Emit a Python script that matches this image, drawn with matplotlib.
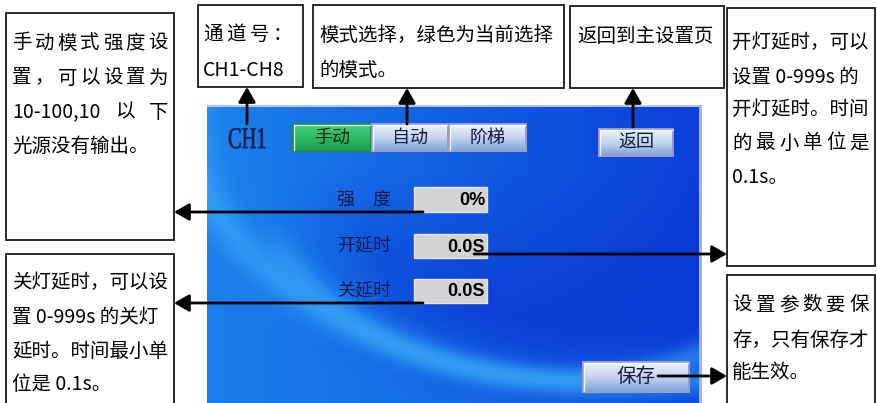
import numpy as np
import matplotlib
matplotlib.use('Agg')
import matplotlib.pyplot as plt
from matplotlib.patches import Rectangle, PathPatch
from matplotlib.textpath import TextPath
from matplotlib.font_manager import FontProperties
from matplotlib.transforms import Affine2D

plt.rcParams['font.family'] = ['Noto Sans CJK SC', 'DejaVu Sans']

# ---- content ----
note_manual = ["手动模式强度设", "置，可以设置为", "10-100,10 以 下", "光源没有输出。"]
note_channel = ["通 道 号 ：", "CH1-CH8"]
note_mode = ["模式选择，绿色为当前选择", "的模式。"]
note_return = ["返回到主设置页"]
note_on = ["开灯延时，可以", "设置 0-999s 的", "开灯延时。时间", "的 最 小 单 位 是", "0.1s。"]
note_off = ["关灯延时，可以设", "置 0-999s 的关灯", "延时。时间最小单", "位是 0.1s。"]
note_save = ["设置参数要保", "存，只有保存才", "能生效。"]
channel_label = "CH1"
mode_buttons = ["手动", "自动", "阶梯"]
active_mode = "手动"
field_labels = ["强　度", "开延时", "关延时"]
field_values = ["0%", "0.0S", "0.0S"]
back_label = "返回"
save_label = "保存"

W, H = 877, 403
fig = plt.figure(figsize=(W / 100, H / 100), dpi=100)
ax = fig.add_axes([0, 0, 1, 1])
ax.set_xlim(0, W)
ax.set_ylim(H, 0)
ax.axis('off')
renderer = fig.canvas.get_renderer()

# ---- blue panel background (decorative gradient) ----
px0, px1, py0, py1 = 207, 702, 105, 403
pw, ph = px1 - px0, py1 - py0
xx, yy = np.meshgrid(np.arange(pw) + px0, np.arange(ph) + py0)
xn = (xx - px0) / pw
left_c = np.array([28, 132, 236]) / 255
right_c = np.array([10, 62, 218]) / 255
t = np.clip(xn ** 0.9, 0, 1)[..., None]
img = left_c * (1 - t) + right_c * t
# big ellipse
r = np.sqrt(((xx - 560) / 290) ** 2 + ((yy - 170) / 200) ** 2)
inside = np.clip((1 - r) * 4, 0, 1)[..., None]
depth = np.clip((yy - 170) / 200, 0, 1)[..., None]
dark = np.array([8, 50, 208]) / 255
img = img * (1 - inside * depth * 0.9) + dark * inside * depth * 0.9
rim = np.exp(-((r - 1.04) / 0.06) ** 2)[..., None] * np.clip((yy - 220) / 40, 0, 1)[..., None]
light = np.array([50, 160, 245]) / 255
img = img * (1 - rim * 0.6) + light * rim * 0.6
# lower swoosh
r2 = np.sqrt(((xx - 620) / 430) ** 2 + ((yy - 120) / 265) ** 2)
sw = np.exp(-((r2 - 1.0) / 0.05) ** 2)[..., None]
img = img * (1 - sw * 0.55) + np.array([60, 175, 250]) / 255 * sw * 0.55
below = np.clip((r2 - 1.0) * 6, 0, 1)[..., None]
img = img * (1 - below * 0.5) + np.array([25, 120, 232]) / 255 * below * 0.5
ax.imshow(np.clip(img, 0, 1), extent=(px0, px1, py1, py0), origin='upper',
          interpolation='bilinear', zorder=1)
ax.add_patch(Rectangle((px0, py0), pw, 2, facecolor='#b8c4dc', edgecolor='none', zorder=2))
ax.add_patch(Rectangle((px1 - 3, py0), 3, ph, facecolor='#a8b2c8', edgecolor='none', zorder=2))


def grad_rect(x0, y0, x1, y1, top, mid, bot, edge, z=3):
    n = 40
    s = np.linspace(0, 1, n)
    top, mid, bot = [np.array(matplotlib.colors.to_rgb(c)) for c in (top, mid, bot)]
    cols = np.where(s[:, None] < 0.5, top + (mid - top) * (s[:, None] / 0.5),
                    mid + (bot - mid) * ((s[:, None] - 0.5) / 0.5))
    arr = np.repeat(cols[:, None, :], 4, axis=1)
    ax.imshow(arr, extent=(x0, x1, y1, y0), origin='upper', interpolation='bilinear', zorder=z)
    ax.add_patch(Rectangle((x0, y0), x1 - x0, y1 - y0, facecolor='none', edgecolor=edge,
                           lw=1.4, zorder=z + 0.1))
    ax.plot([x0 + 1, x1 - 1], [y0 + 1, y0 + 1], color='white', lw=1, alpha=0.8, zorder=z + 0.2)
    ax.plot([x0 + 1, x0 + 1], [y0 + 1, y1 - 1], color='white', lw=1, alpha=0.8, zorder=z + 0.2)


# mode buttons
btn_x = [(293, 371), (372, 448), (449, 526)]
for (bx0, bx1), lab in zip(btn_x, mode_buttons):
    if lab == active_mode:
        grad_rect(bx0, 124, bx1, 151, '#3fd07a', '#2cbb62', '#1f9e4e', '#1e8a44')
        col = '#0b2a10'
    else:
        grad_rect(bx0, 124, bx1, 151, '#eef3fb', '#c3d5ef', '#7ea3d9', '#9a9cc8')
        col = '#0e1a40'
    ax.text((bx0 + bx1) / 2, 137.5, lab, fontsize=13, color=col, ha='center', va='center', zorder=5)

# back & save buttons
grad_rect(599, 129, 673, 156, '#eef3fb', '#c3d5ef', '#7ea3d9', '#9a9cc8')
ax.text(636, 142.5, back_label, fontsize=13, color='#0e1a40', ha='center', va='center', zorder=5)
grad_rect(583, 362, 689, 392, '#eef3fb', '#c3d5ef', '#7ea3d9', '#9a9cc8')
ax.text(636, 377, save_label, fontsize=14, color='#0e1a40', ha='center', va='center', zorder=5)

# CH1 (condensed serif)
tp = TextPath((0, 0), channel_label, size=30, prop=FontProperties(family='Liberation Serif'))
tr = Affine2D().scale(0.68, -1).translate(228, 148)
ax.add_patch(PathPatch(tr.transform_path(tp), facecolor='#14214f', edgecolor='#14214f',
                       lw=0.5, zorder=5))

# fields
field_y = [(187, 212), (234, 258), (279, 303)]
label_cx = [364, 364, 364]
for (fy0, fy1), lab, val, lcx in zip(field_y, field_labels, field_values, label_cx):
    ax.add_patch(Rectangle((414, fy0), 73, fy1 - fy0, facecolor='#d3d3d3', edgecolor='#e6e6e6',
                           lw=1, zorder=4))
    ax.text(lcx, (fy0 + fy1) / 2, lab, fontsize=13, color='#0c1a48', ha='center', va='center', zorder=5)
    ax.text(485, (fy0 + fy1) / 2 + 1, val, fontsize=13, fontweight='bold', family='Liberation Sans',
            color='black', ha='right', va='center', zorder=5)

# ---- annotation boxes ----
def box(x0, y0, x1, y1):
    ax.add_patch(Rectangle((x0, y0), x1 - x0, y1 - y0, facecolor='white', edgecolor='#1a1a1a',
                           lw=1.3, zorder=6))


def line(x0, x1, y, text, justify=False, fs=14):
    if not justify:
        ax.text(x0, y, text, fontsize=fs, ha='left', va='center', color='black', zorder=7)
        return
    tokens = text.split(' ') if ' ' in text else list(text)
    objs = [ax.text(0, y, tk, fontsize=fs, ha='left', va='center', color='black', zorder=7)
            for tk in tokens]
    widths = [o.get_window_extent(renderer).width for o in objs]
    gap = (x1 - x0 - sum(widths)) / max(len(tokens) - 1, 1)
    x = x0
    for o, w in zip(objs, widths):
        o.set_x(x)
        x += w + gap


box(6, 13, 174, 240)
for txt, y, j in zip(note_manual, [43, 78, 112, 146], [True, True, True, False]):
    line(12, 168, y, txt, j)

box(198, 5, 303, 87)
line(203, 292, 34, note_channel[0], True)
line(203, 292, 70, note_channel[1], False)

box(313, 5, 564, 88)
line(319, 558, 35, note_mode[0], False)
line(319, 558, 70, note_mode[1], False)

box(570, 6, 724, 88)
line(577, 714, 36, note_return[0], False)

box(727, 8, 875, 266)
for txt, y, j in zip(note_on, [42, 77, 109, 143, 177], [False, False, False, True, False]):
    line(732, 869, y, txt, j)

box(6, 254, 174, 410)
for txt, y, j in zip(note_off, [283, 318, 351, 385], [False, False, False, False]):
    line(12, 168, y, txt, j)

box(727, 275, 875, 410)
for txt, y, j in zip(note_save, [305, 340, 372], [True, False, False]):
    line(732, 869, y, txt, j)

# ---- arrows ----
def arrow(x0, y0, x1, y1):
    ax.annotate('', xy=(x1, y1), xytext=(x0, y0),
                arrowprops=dict(arrowstyle='-|>,head_length=0.7,head_width=0.4', color='black',
                                lw=2.0, mutation_scale=13, shrinkA=0, shrinkB=0), zorder=8)


arrow(247, 124, 247, 87)
arrow(407, 124, 407, 88)
arrow(633, 127, 633, 88)
arrow(423, 212, 174, 212)
arrow(474, 254, 727, 254)
arrow(423, 303, 174, 303)
arrow(658, 376, 727, 376)

fig.savefig('out.png', dpi=100)
